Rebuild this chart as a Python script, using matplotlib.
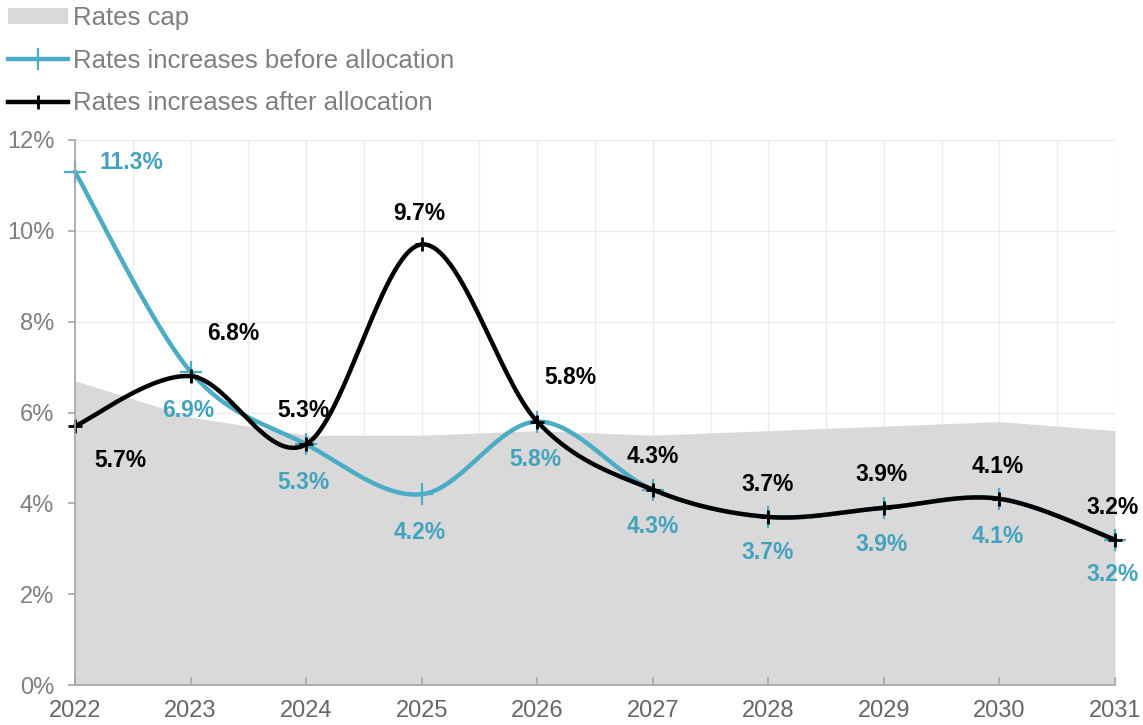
import numpy as np
import matplotlib
matplotlib.use("Agg")
import matplotlib.pyplot as plt
from matplotlib.patches import Patch
from matplotlib.lines import Line2D

plt.rcParams["font.family"] = ["Liberation Sans", "DejaVu Sans"]

# ---- data -------------------------------------------------------------
years = [2022, 2023, 2024, 2025, 2026, 2027, 2028, 2029, 2030, 2031]
rates_cap = [6.7, 5.9, 5.5, 5.5, 5.6, 5.5, 5.6, 5.7, 5.8, 5.6]
before_allocation = [11.3, 6.9, 5.3, 4.2, 5.8, 4.3, 3.7, 3.9, 4.1, 3.2]
after_allocation = [5.7, 6.8, 5.3, 9.7, 5.8, 4.3, 3.7, 3.9, 4.1, 3.2]
y_ticks = [0, 2, 4, 6, 8, 10, 12]
series_names = ["Rates cap", "Rates increases before allocation",
                "Rates increases after allocation"]

# label placement (pixel offsets from each point; +y is down the page)
after_offsets = [(45, 34), (43, -43), (-3, -34), (-2, -31), (33, -44),
                 (0, -33), (-1, -32), (-2, -33), (-2, -32), (-2, -32)]
before_offsets = [(56, -9), (-2, 39), (-3, 38), (-2, 38), (-2, 38),
                  (0, 37), (-1, 36), (-2, 37), (-2, 38), (-2, 35)]

CAP_COLOR = "#d9d9d9"
BLUE = "#4bacc6"
BLUE_TEXT = "#43a3be"
BLACK = "#000000"
GRID = "#ebebeb"
SPINE = "#a6a6a6"
TICK_TEXT = "#7f7f7f"
LABEL_SIZE = 16.5


def smooth_curve(x, y, steps=60):
    """Smoothed polyline through the points (cubic Bezier / Catmull-Rom)."""
    p = np.column_stack([x, y]).astype(float)
    ext = np.vstack([p[0], p, p[-1]])
    out = []
    t = np.linspace(0, 1, steps)[:, None]
    for i in range(len(p) - 1):
        p0, p1, p2, p3 = ext[i], ext[i + 1], ext[i + 2], ext[i + 3]
        b0 = p1
        b1 = p1 + (p2 - p0) / 6.0
        b2 = p2 - (p3 - p1) / 6.0
        b3 = p2
        seg = ((1 - t) ** 3) * b0 + 3 * ((1 - t) ** 2) * t * b1 \
            + 3 * (1 - t) * t ** 2 * b2 + t ** 3 * b3
        out.append(seg if i == 0 else seg[1:])
    pts = np.vstack(out)
    return pts[:, 0], pts[:, 1]


fig = plt.figure(figsize=(11.43, 7.25), dpi=100)
ax = fig.add_axes([75 / 1143, 1 - 685 / 725, (1115 - 75) / 1143, (685 - 140) / 725])

# grid: half-year verticals and 2% horizontals
for xv in np.arange(years[0], years[-1] + 0.01, 0.5):
    ax.axvline(xv, color=GRID, lw=1, zorder=0)
for yv in y_ticks[1:]:
    ax.axhline(yv, color=GRID, lw=1, zorder=0)

# rates cap area
ax.fill_between(years, rates_cap, 0, color=CAP_COLOR, lw=0, zorder=1)

# smoothed series
bx, by = smooth_curve(years, before_allocation)
ax.plot(bx, by, color=BLUE, lw=3.2, zorder=3, solid_capstyle="round",
        clip_on=False)
ax.plot(years, before_allocation, ls="none", marker="+", ms=16, mew=1.6,
        color=BLUE, zorder=3, clip_on=False)

axx, axy = smooth_curve(years, after_allocation)
ax.plot(axx, axy, color=BLACK, lw=3.2, zorder=4, solid_capstyle="round",
        clip_on=False)
ax.plot(years, after_allocation, ls="none", marker="+", ms=10, mew=2.0,
        color=BLACK, zorder=5, clip_on=False)

# data labels
for x, v, (dx, dy) in zip(years, before_allocation, before_offsets):
    ax.annotate(f"{v:.1f}%", (x, v), xytext=(dx, -dy), textcoords="offset pixels",
                ha="center", va="center", fontsize=LABEL_SIZE, fontweight="bold",
                color=BLUE_TEXT, zorder=6, annotation_clip=False)
for x, v, (dx, dy) in zip(years, after_allocation, after_offsets):
    ax.annotate(f"{v:.1f}%", (x, v), xytext=(dx, -dy), textcoords="offset pixels",
                ha="center", va="center", fontsize=LABEL_SIZE, fontweight="bold",
                color=BLACK, zorder=6, annotation_clip=False)

# axes styling
ax.set_xlim(years[0], years[-1])
ax.set_ylim(y_ticks[0], y_ticks[-1])
ax.set_xticks(years)
ax.set_xticklabels([str(y) for y in years])
ax.set_yticks(y_ticks)
ax.set_yticklabels([f"{t}%" for t in y_ticks])
for side in ("top", "right"):
    ax.spines[side].set_visible(False)
for side in ("left", "bottom"):
    ax.spines[side].set_color(SPINE)
    ax.spines[side].set_linewidth(1.2)
    ax.spines[side].set_zorder(7)
ax.tick_params(axis="x", direction="in", length=6, width=1.2, color=SPINE,
               labelsize=17, labelcolor="#666666", pad=11)
ax.tick_params(axis="y", direction="out", length=5, width=1.2, color=SPINE,
               labelsize=17, labelcolor=TICK_TEXT, pad=10)
ax.set_facecolor("white")

# legend
handles = [
    Patch(facecolor=CAP_COLOR, edgecolor="none"),
    Line2D([], [], color=BLUE, lw=3.2, marker="+", ms=16, mew=1.6),
    Line2D([], [], color=BLACK, lw=3.2, marker="+", ms=10, mew=2.0),
]
leg = fig.legend(handles, series_names, loc="upper left",
                 bbox_to_anchor=(8 / 1143, 1 - 6 / 725), frameon=False,
                 fontsize=18.5, handlelength=2.35, handleheight=0.55,
                 handletextpad=0.18, labelspacing=0.72, borderpad=0,
                 borderaxespad=0)
for txt in leg.get_texts():
    txt.set_color(TICK_TEXT)

fig.savefig("out.png", dpi=100)
